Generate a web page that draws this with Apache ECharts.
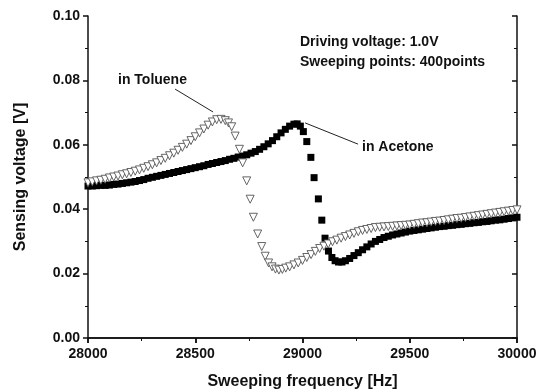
<!DOCTYPE html>
<html>
<head>
<meta charset="utf-8">
<script src="https://cdn.jsdelivr.net/npm/echarts@6/dist/echarts.min.js"></script>
<style>
  html, body { margin: 0; padding: 0; background: #fff; }
  #chart { width: 537px; height: 390px; }
</style>
</head>
<body>
<div id="chart"></div>
<script>
// sweep data (Hz, V)
const freqToluene = [
  28000, 28020, 28040, 28060, 28080, 28100, 28120, 28140, 28160, 28180,
  28200, 28220, 28240, 28260, 28280, 28300, 28320, 28340, 28360, 28380,
  28400, 28420, 28440, 28460, 28480, 28500, 28520, 28540, 28560, 28580,
  28600, 28620, 28640, 28655, 28670, 28686, 28706, 28721, 28740, 28756,
  28771, 28791, 28810, 28826, 28842, 28858, 28874, 28890, 28906, 28922,
  28940, 28960, 28980, 29000, 29020, 29040, 29060, 29080, 29100, 29120,
  29140, 29160, 29180, 29200, 29220, 29240, 29260, 29280, 29300, 29320,
  29340, 29360, 29380, 29400, 29420, 29440, 29460, 29480, 29500, 29520,
  29540, 29560, 29580, 29600, 29620, 29640, 29660, 29680, 29700, 29720,
  29740, 29760, 29780, 29800, 29820, 29840, 29860, 29880, 29900, 29920,
  29940, 29960, 29980, 30000
]
const voltToluene = [
  0.0482, 0.0485, 0.0488, 0.0490, 0.0493, 0.0497, 0.0500, 0.0503, 0.0507, 0.0510,
  0.0514, 0.0518, 0.0522, 0.0527, 0.0532, 0.0538, 0.0544, 0.0551, 0.0558, 0.0566,
  0.0574, 0.0583, 0.0592, 0.0602, 0.0613, 0.0625, 0.0637, 0.0649, 0.0661, 0.0671,
  0.0678, 0.0679, 0.0675, 0.0668, 0.0656, 0.0627, 0.0586, 0.0544, 0.0488, 0.0431,
  0.0375, 0.0323, 0.0284, 0.0254, 0.0233, 0.0221, 0.0214, 0.0211, 0.0213, 0.0217,
  0.0221, 0.0227, 0.0233, 0.0241, 0.0250, 0.0259, 0.0269, 0.0278, 0.0285, 0.0292,
  0.0299, 0.0304, 0.0310, 0.0315, 0.0320, 0.0325, 0.0330, 0.0334, 0.0337, 0.0340,
  0.0343, 0.0344, 0.0345, 0.0346, 0.0347, 0.0348, 0.0349, 0.0350, 0.0351, 0.0353,
  0.0355, 0.0357, 0.0358, 0.0360, 0.0362, 0.0363, 0.0365, 0.0367, 0.0369, 0.0371,
  0.0372, 0.0374, 0.0376, 0.0378, 0.0380, 0.0382, 0.0384, 0.0386, 0.0388, 0.0390,
  0.0392, 0.0394, 0.0396, 0.0398
]

const freqAcetone = [
  28000, 28020, 28040, 28060, 28080, 28100, 28120, 28140, 28160, 28180,
  28200, 28220, 28240, 28260, 28280, 28300, 28320, 28340, 28360, 28380,
  28400, 28420, 28440, 28460, 28480, 28500, 28520, 28540, 28560, 28580,
  28600, 28620, 28640, 28660, 28680, 28700, 28720, 28740, 28760, 28780,
  28800, 28820, 28840, 28860, 28880, 28900, 28920, 28940, 28960, 28975,
  28990, 29004, 29020, 29039, 29054, 29074, 29090, 29105, 29121, 29137,
  29152, 29168, 29184, 29200, 29220, 29240, 29260, 29280, 29300, 29320,
  29340, 29360, 29380, 29400, 29420, 29440, 29460, 29480, 29500, 29520,
  29540, 29560, 29580, 29600, 29620, 29640, 29660, 29680, 29700, 29720,
  29740, 29760, 29780, 29800, 29820, 29840, 29860, 29880, 29900, 29920,
  29940, 29960, 29980, 30000
]
const voltAcetone = [
  0.0472, 0.0472, 0.0473, 0.0474, 0.0474, 0.0475, 0.0477, 0.0478, 0.0480, 0.0482,
  0.0484, 0.0486, 0.0489, 0.0492, 0.0496, 0.0499, 0.0502, 0.0505, 0.0508, 0.0511,
  0.0514, 0.0517, 0.0520, 0.0523, 0.0526, 0.0529, 0.0532, 0.0535, 0.0539, 0.0542,
  0.0545, 0.0548, 0.0551, 0.0555, 0.0558, 0.0562, 0.0565, 0.0569, 0.0574, 0.0579,
  0.0586, 0.0594, 0.0603, 0.0613, 0.0625, 0.0637, 0.0648, 0.0658, 0.0664, 0.0665,
  0.0658, 0.0641, 0.0610, 0.0561, 0.0498, 0.0432, 0.0366, 0.0310, 0.0270, 0.0250,
  0.0240, 0.0236, 0.0236, 0.0240, 0.0247, 0.0256, 0.0265, 0.0274, 0.0283, 0.0292,
  0.0300, 0.0306, 0.0312, 0.0316, 0.0320, 0.0323, 0.0326, 0.0329, 0.0332, 0.0334,
  0.0336, 0.0338, 0.0340, 0.0342, 0.0344, 0.0346, 0.0347, 0.0349, 0.0350, 0.0352,
  0.0353, 0.0355, 0.0356, 0.0358, 0.0359, 0.0361, 0.0362, 0.0364, 0.0366, 0.0367,
  0.0369, 0.0371, 0.0373, 0.0375
]

// arrows from the labels to the peaks, in data units
const arrowToluene = [[28406, 0.0773], [28583, 0.0702]]
const arrowAcetone = [[29259, 0.0602], [29012, 0.0668]]

const pairs = (xs, ys) => xs.map((x, i) => [x, ys[i]])
const font = '"Liberation Sans", Arial, sans-serif'
const ink = '#111'

const chart = echarts.init(document.getElementById('chart'))

const frame = { show: true, lineStyle: { color: ink, width: 1.5 } }
const labelStyle = { fontFamily: font, fontWeight: 'bold', fontSize: 14, color: ink }
const nameStyle = { fontFamily: font, fontWeight: 'bold', fontSize: 16, color: ink }

chart.setOption({
  animation: false,
  backgroundColor: '#fff',
  textStyle: { fontFamily: font },
  // fixed plot box, don't let names squeeze it
  grid: { left: 88, right: 20, top: 16, bottom: 52, outerBoundsMode: 'none' },
  xAxis: [{
    type: 'value', min: 28000, max: 30000, interval: 500,
    name: 'Sweeping frequency [Hz]', nameLocation: 'middle', nameGap: 36,
    nameTextStyle: nameStyle,
    axisLine: frame,
    axisTick: { inside: false, length: 5, lineStyle: { color: ink, width: 1.5 } },
    minorTick: { show: true, splitNumber: 2, length: 3, lineStyle: { color: ink } },
    axisLabel: { ...labelStyle, margin: 9, formatter: v => String(v) },
    splitLine: { show: false }
  }, {
    type: 'value', min: 28000, max: 30000, interval: 500, position: 'top',
    axisLine: frame,
    axisTick: { inside: true, length: 5, lineStyle: { color: ink, width: 1.5 } },
    minorTick: { show: true, splitNumber: 2, length: 3, lineStyle: { color: ink } },
    axisLabel: { show: false },
    splitLine: { show: false }
  }],
  yAxis: [{
    type: 'value', min: 0, max: 0.1, interval: 0.02,
    name: 'Sensing voltage [V]', nameLocation: 'middle', nameGap: 59,
    nameTextStyle: nameStyle,
    axisLine: frame,
    axisTick: { inside: false, length: 5, lineStyle: { color: ink, width: 1.5 } },
    minorTick: { show: true, splitNumber: 2, length: 3, lineStyle: { color: ink } },
    axisLabel: { ...labelStyle, margin: 8, formatter: v => v.toFixed(2) },
    splitLine: { show: false }
  }, {
    type: 'value', min: 0, max: 0.1, interval: 0.02, position: 'right',
    axisLine: frame,
    axisTick: { inside: true, length: 5, lineStyle: { color: ink, width: 1.5 } },
    minorTick: { show: true, splitNumber: 2, length: 3, lineStyle: { color: ink } },
    axisLabel: { show: false },
    splitLine: { show: false }
  }],
  series: [{
    name: 'in Acetone',
    type: 'scatter',
    symbol: 'rect',
    symbolSize: 7,
    itemStyle: { color: '#000', opacity: 1 },
    data: pairs(freqAcetone, voltAcetone),
    z: 2,
    markLine: {
      silent: true,
      symbol: ['none', 'arrow'],
      symbolSize: [0, 6],
      label: { show: false },
      lineStyle: { color: '#222', width: 1, type: 'solid' },
      data: [[{ coord: arrowAcetone[0] }, { coord: arrowAcetone[1] }]]
    }
  }, {
    name: 'in Toluene',
    type: 'scatter',
    symbol: 'triangle',
    symbolRotate: 180,
    symbolSize: 8,
    itemStyle: { color: '#fff', borderColor: '#555', borderWidth: 0.9, opacity: 1 },
    data: pairs(freqToluene, voltToluene),
    z: 3,
    markLine: {
      silent: true,
      symbol: ['none', 'arrow'],
      symbolSize: [0, 6],
      label: { show: false },
      lineStyle: { color: '#222', width: 1, type: 'solid' },
      data: [[{ coord: arrowToluene[0] }, { coord: arrowToluene[1] }]]
    }
  }],
  graphic: [
    { type: 'text', left: 300, top: 35,
      style: { text: 'Driving voltage: 1.0V', font: 'bold 14px ' + font, fill: ink } },
    { type: 'text', left: 300, top: 55,
      style: { text: 'Sweeping points: 400points', font: 'bold 14px ' + font, fill: ink } },
    { type: 'text', left: 118, top: 73,
      style: { text: 'in Toluene', font: 'bold 14px ' + font, fill: ink } },
    { type: 'text', left: 362, top: 140,
      style: { text: 'in Acetone', font: 'bold 14px ' + font, fill: ink } }
  ]
})
</script>
</body>
</html>
